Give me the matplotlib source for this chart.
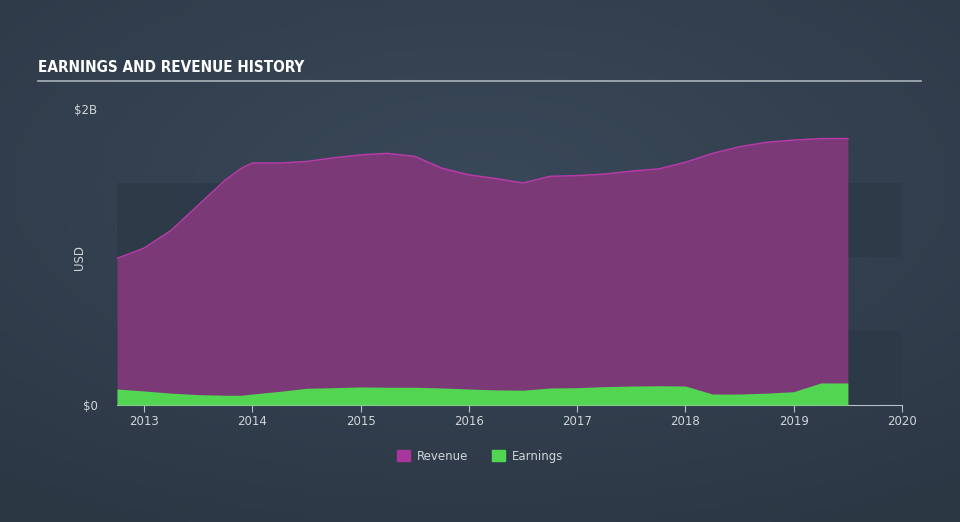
import numpy as np
import matplotlib.pyplot as plt
from matplotlib.patches import Rectangle

# quarterly points (values in $B)
years = [2012.75, 2013.0, 2013.25, 2013.5, 2013.75, 2013.9, 2014.0, 2014.25, 2014.5,
         2014.75, 2015.0, 2015.25, 2015.5, 2015.75, 2016.0, 2016.25, 2016.5, 2016.75,
         2017.0, 2017.25, 2017.5, 2017.75, 2018.0, 2018.25, 2018.5, 2018.75, 2019.0,
         2019.25, 2019.5]
revenue = [0.99, 1.06, 1.18, 1.35, 1.52, 1.60, 1.635, 1.635, 1.645,
           1.67, 1.69, 1.70, 1.68, 1.60, 1.555, 1.53, 1.50, 1.545,
           1.55, 1.56, 1.58, 1.595, 1.64, 1.70, 1.745, 1.775, 1.79,
           1.80, 1.80]
earnings = [0.108, 0.095, 0.080, 0.070, 0.066, 0.066, 0.074, 0.092, 0.113,
            0.117, 0.122, 0.120, 0.120, 0.115, 0.108, 0.102, 0.100, 0.115,
            0.117, 0.124, 0.128, 0.130, 0.128, 0.074, 0.074, 0.080, 0.090,
            0.149, 0.149]
xticks = [2013, 2014, 2015, 2016, 2017, 2018, 2019, 2020]

fig = plt.figure(figsize=(9.6, 5.22), dpi=100)

# background gradient
bg = fig.add_axes([0, 0, 1, 1])
gx, gy = np.meshgrid(np.linspace(-1, 1, 200), np.linspace(-1, 1, 110))
r = np.sqrt(gx**2 * 0.8 + (gy - 0.3)**2)
c0 = np.array([0x39, 0x48, 0x59]) / 255
c1 = np.array([0x2c, 0x37, 0x44]) / 255
t = np.clip(r / 1.5, 0, 1)[..., None]
bg.imshow(c0 * (1 - t) + c1 * t, aspect='auto', extent=[0, 1, 0, 1], origin='lower')
bg.axis('off')

W, H = 960, 522
ax = fig.add_axes([117 / W, (H - 405) / H, (902 - 117) / W, (405 - 109) / H])
ax.set_facecolor('none')
ax.set_xlim(2012.75, 2020)
ax.set_ylim(0, 2.0)

# alternating bands
for y0 in [0, 1.0]:
    ax.add_patch(Rectangle((2012.75, y0), 7.25, 0.5, color='#2c3947', alpha=0.8,
                           lw=0, zorder=0))

ax.fill_between(years, revenue, color='#7b3a77', lw=0, zorder=2)
ax.plot(years, revenue, color='#b83aa8', lw=1.1, zorder=3)
ax.fill_between(years, earnings, color='#52d652', lw=0, zorder=4)

for s in ['top', 'right', 'left']:
    ax.spines[s].set_visible(False)
ax.spines['bottom'].set_color('#b8c0c8')
ax.set_xticks(xticks)
ax.set_xticklabels([str(x) for x in xticks])
ax.set_yticks([0, 2.0])
ax.set_yticklabels(['$0', '$2B'])
ax.tick_params(axis='x', colors='#b8c0c8', labelcolor='#d0d5da', labelsize=8.5,
               length=5, pad=2)
ax.tick_params(axis='y', length=0, labelcolor='#d0d5da', labelsize=8.5, pad=14)
ax.set_ylabel('USD', color='#d0d5da', fontsize=8.5)
ax.yaxis.set_label_coords((86 - 117) / 785, 0.5)

# title and rule
fig.text(38 / W, 1 - 68 / H, 'EARNINGS AND REVENUE HISTORY', color='white',
         fontsize=11, fontweight='bold', va='center', ha='left',
         family='DejaVu Sans', fontstretch='condensed')
fig.add_artist(plt.Line2D([38 / W, 921 / W], [1 - 81 / H, 1 - 81 / H],
                          color='#aab2bb', lw=1.2))

# legend
lg = fig.legend(handles=[Rectangle((0, 0), 1, 1, color='#a8369c'),
                         Rectangle((0, 0), 1, 1, color='#52d652')],
                labels=['Revenue', 'Earnings'], loc='center',
                bbox_to_anchor=(0.5, 1 - 456 / H), ncol=2, frameon=False,
                fontsize=8.5, handlelength=1.1, handleheight=1.1,
                columnspacing=2.0, handletextpad=0.6)
for txt in lg.get_texts():
    txt.set_color('#d0d5da')

fig.savefig('out.png', dpi=100)
